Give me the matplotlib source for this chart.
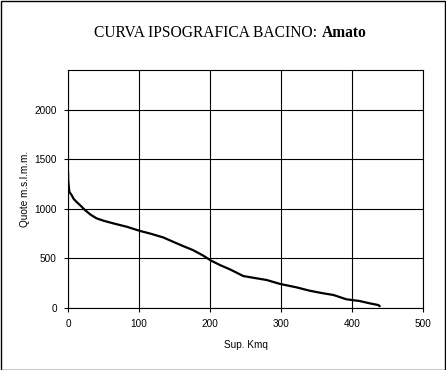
import matplotlib
matplotlib.use("Agg")
import matplotlib.pyplot as plt
from matplotlib.patches import Rectangle

# Data
area_km2 = [0, 0.3, 1, 2, 5, 8, 12, 18, 24, 32, 40, 50, 64, 83, 101, 115, 134,
            148, 162, 176, 190, 202, 215, 228, 247, 261, 280, 299, 322, 340,
            358, 374, 392, 411, 425, 437, 440]
elev_m = [1380, 1290, 1230, 1170, 1140, 1100, 1070, 1030, 987, 940, 905, 880,
          853, 819, 778, 752, 712, 668, 625, 584, 530, 476, 430, 390, 322, 305,
          282, 242, 208, 175, 150, 131, 88, 70, 47, 30, 13]
x_ticks = [0, 100, 200, 300, 400, 500]
y_ticks = [0, 500, 1000, 1500, 2000]

W, H = 446, 370
fig = plt.figure(figsize=(W / 100, H / 100), dpi=100)
fig.patch.set_facecolor("white")

ax = fig.add_axes([68 / W, 1 - 308 / H, (423 - 68) / W, (308 - 70) / H])
ax.plot(area_km2, elev_m, color="black", lw=1.6, solid_capstyle="butt")
ax.set_xlim(0, 500)
ax.set_ylim(0, 2400)
ax.set_xticks(x_ticks)
ax.set_yticks(y_ticks)
ax.grid(True, color="black", lw=0.8)
ax.set_axisbelow(True)
for s in ax.spines.values():
    s.set_linewidth(0.8)
    s.set_color("black")
ax.tick_params(direction="out", length=3, width=0.8, colors="black",
               labelsize=7.2, pad=5)
for lab in ax.get_xticklabels() + ax.get_yticklabels():
    lab.set_family("Liberation Sans")

ax.set_xlabel("Sup. Kmq", family="Liberation Sans", fontsize=7.2, labelpad=8)
ax.set_ylabel("Quote m.s.l.m.m.", family="Liberation Sans", fontsize=7.2,
              labelpad=3)

# Title: regular part + bold name
ty = 1 - 33 / H
fig.text(317 / W, ty, "CURVA IPSOGRAFICA BACINO:", ha="right", va="center",
         family="Liberation Serif", fontsize=11.2)
fig.text(322 / W, ty, "Amato", ha="left", va="center",
         family="Liberation Serif", fontsize=11.2, fontweight="bold")

# Outer border
fig.patches.append(Rectangle((0.5 / W, 0.5 / H), (W - 1.5) / W, (H - 1.5) / H,
                             transform=fig.transFigure, fill=False,
                             edgecolor="black", lw=1.0))

fig.savefig("out.png", dpi=100)
